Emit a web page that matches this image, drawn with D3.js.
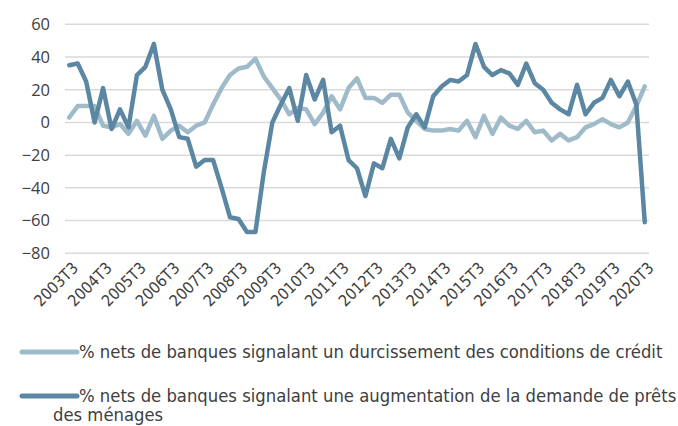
<!DOCTYPE html>
<html lang="fr">
<head>
    <meta charset="UTF-8">
    <title>Crédit aux ménages</title>
    <style>
        body { margin: 0; background: #fff; }
    </style>
</head>
<body>
    <script src="https://d3js.org/d3.v7.min.js"></script>
    <script>
        const width = 678,
              height = 426;

        // trimestres 2003T3 -> 2020T3
        const quarters = [];
        for (let y = 2003; y <= 2020; y++) {
            ["T1", "T2", "T3", "T4"].forEach(q => quarters.push(y + q));
        }
        const categories = quarters.slice(quarters.indexOf("2003T3"), quarters.indexOf("2020T3") + 1);

        const tickLabels = ["2003T3", "2004T3", "2005T3", "2006T3", "2007T3", "2008T3", "2009T3", "2010T3", "2011T3",
                            "2012T3", "2013T3", "2014T3", "2015T3", "2016T3", "2017T3", "2018T3", "2019T3", "2020T3"];
        const yTicks = [60, 40, 20, 0, -20, -40, -60, -80];

        // % nets de banques signalant un durcissement des conditions de crédit
        const durcissement = [3, 10, 10, 10, -2, -3, -1, -7, 1, -8, 4, -10, -5, -2, -6, -2, 0, 11, 21, 29,
                              33, 34, 39, 28, 21, 14, 5, 9, 8, -1, 6, 16, 8, 21, 27, 15, 15, 12, 17, 17,
                              6, 1, -4, -5, -5, -4, -5, 1, -9, 4, -7, 3, -2, -4, 1, -6, -5, -11, -7, -11,
                              -9, -3, -1, 2, -1, -3, 0, 10, 22];

        // % nets de banques signalant une augmentation de la demande de prêts des ménages
        const demande = [35, 36, 25, 0, 21, -4, 8, -3, 29, 34, 48, 20, 8, -9, -10, -27, -23, -23, -40, -58,
                         -59, -67, -67, -30, 0, 11, 21, 1, 29, 14, 26, -6, -2, -23, -28, -45, -25, -28, -10, -22,
                         -3, 5, -3, 16, 22, 26, 25, 29, 48, 34, 29, 32, 30, 23, 36, 24, 20, 12, 8, 5,
                         23, 5, 12, 15, 26, 16, 25, 11, -61];

        const series = [
            { name: "% nets de banques signalant un durcissement des conditions de crédit", values: durcissement, color: "#9fbac9" },
            { name: "% nets de banques signalant une augmentation de la demande de prêts des ménages", values: demande, color: "#5b87a3" }
        ];

        var svg = d3.select("body")
                    .append("svg")
                    .attr("width", width)
                    .attr("height", height);

        var x = d3.scaleBand()
                  .domain(categories)
                  .range([65, 649]);

        var y = d3.scaleLinear()
                  .domain([-80, 60])
                  .range([253.3, 24.3]);

        // grille horizontale
        svg.append("g")
           .selectAll("line")
           .data(yTicks)
           .enter()
           .append("line")
           .attr("x1", 65)
           .attr("x2", 649)
           .attr("y1", d => y(d))
           .attr("y2", d => y(d))
           .style("stroke", "#d9d9d9")
           .style("stroke-width", 1.5);

        // axe des ordonnées
        var yAxis = svg.append("g")
           .attr("transform", "translate(58,0)")
           .call(d3.axisLeft(y).tickValues(yTicks).tickSize(0).tickPadding(8));
        yAxis.select(".domain").remove();
        yAxis.selectAll("text")
             .style("font-family", "'Open Sans', sans-serif")
             .style("font-size", "16.5px")
             .style("fill", "#404040");

        // axe des abscisses (étiquettes inclinées)
        var xAxis = svg.append("g")
           .attr("transform", "translate(0,262)")
           .call(d3.axisBottom(x).tickValues(tickLabels).tickSize(0).tickPadding(0));
        xAxis.select(".domain").remove();
        xAxis.selectAll("text")
             .attr("text-anchor", "end")
             .attr("dy", 0)
             .attr("transform", "translate(10,7) rotate(-45)")
             .style("font-family", "'DejaVu Sans Condensed', sans-serif")
             .style("font-size", "16px")
             .style("fill", "#404040");

        // courbes
        var line = d3.line()
                     .x((d, i) => x(categories[i]) + x.bandwidth() / 2)
                     .y(d => y(d));

        svg.append("g")
           .selectAll("path")
           .data(series)
           .enter()
           .append("path")
           .attr("d", d => line(d.values))
           .style("fill", "none")
           .style("stroke", d => d.color)
           .style("stroke-width", 4.5)
           .style("stroke-linejoin", "round")
           .style("stroke-linecap", "round");

        // légende
        var legend = svg.append("g")
           .selectAll("g")
           .data(series)
           .enter()
           .append("g")
           .attr("transform", (d, i) => "translate(0," + (352 + i * 44) + ")");

        legend.append("line")
              .attr("x1", 22)
              .attr("x2", 77)
              .style("stroke", d => d.color)
              .style("stroke-width", 5)
              .style("stroke-linecap", "round");

        var legendText = legend.append("text")
              .style("font-family", "'DejaVu Sans Condensed', sans-serif")
              .style("font-size", "18.3px")
              .style("fill", "#404040");

        // retour à la ligne pour le second libellé
        legendText.each(function(d, i) {
            var t = d3.select(this);
            if (i === 1) {
                t.append("tspan").attr("x", 79).attr("y", 0).attr("dy", "0.35em")
                 .text("% nets de banques signalant une augmentation de la demande de prêts");
                t.append("tspan").attr("x", 53).attr("y", 19).attr("dy", "0.35em")
                 .text("des ménages");
            } else {
                t.append("tspan").attr("x", 79).attr("y", 0).attr("dy", "0.35em").text(d.name);
            }
        });
    </script>
</body>
</html>
